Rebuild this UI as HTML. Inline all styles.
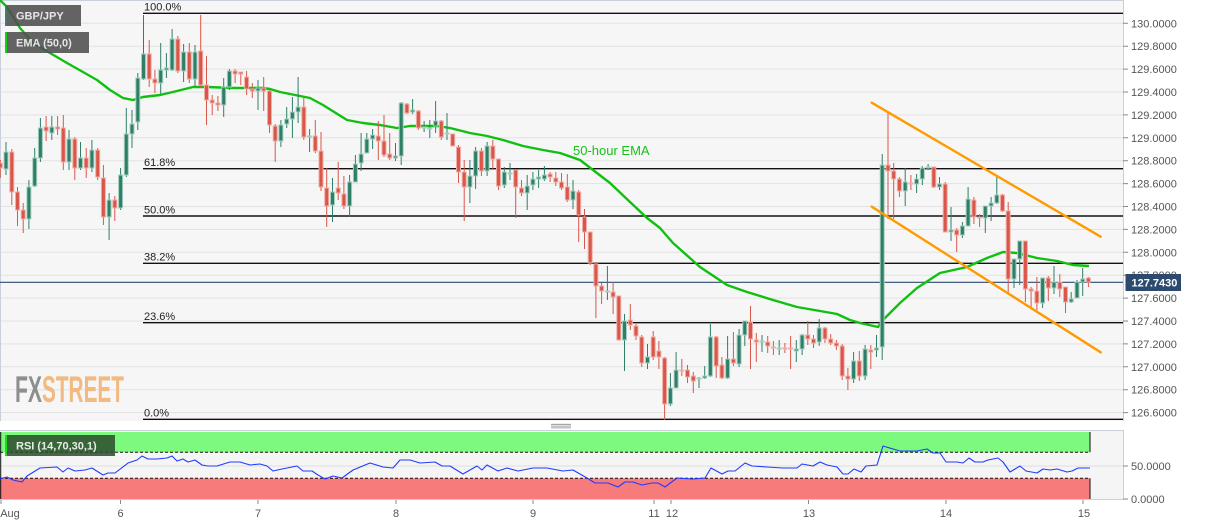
<!DOCTYPE html>
<html><head><meta charset="utf-8"><style>
html,body{margin:0;padding:0;background:#fff;width:1207px;height:526px;overflow:hidden}
svg{display:block;font-family:"Liberation Sans",Arial,sans-serif}
</style></head><body>
<svg width="1207" height="526" viewBox="0 0 1207 526" xmlns="http://www.w3.org/2000/svg">
<defs><clipPath id="mc"><rect x="0" y="0" width="1123" height="421"/></clipPath>
<clipPath id="rc"><rect x="0" y="430" width="1123" height="70"/></clipPath></defs>
<rect x="0" y="0" width="1207" height="526" fill="#fff"/>
<rect x="0" y="0" width="1123" height="421" fill="#f6f6f6"/>
<g stroke="#e2e2e2" stroke-width="1">
<path d="M0,23.3H1123M0,46.2H1123M0,69.1H1123M0,92H1123M0,114.9H1123M0,137.8H1123M0,160.7H1123M0,183.6H1123M0,206.5H1123M0,229.4H1123M0,252.3H1123M0,275.2H1123M0,298.1H1123M0,321H1123M0,343.9H1123M0,366.8H1123M0,389.7H1123M0,412.6H1123"/>
</g>
<g stroke="#c9cfdb" stroke-width="1" fill="none"><path d="M0.5,0V421M0,0.5H1123.5M1123.5,0V421"/></g>
<g stroke="#8a8a8a" stroke-width="1"><path d="M1123,23.3h5M1123,46.2h5M1123,69.1h5M1123,92h5M1123,114.9h5M1123,137.8h5M1123,160.7h5M1123,183.6h5M1123,206.5h5M1123,229.4h5M1123,252.3h5M1123,275.2h5M1123,298.1h5M1123,321h5M1123,343.9h5M1123,366.8h5M1123,389.7h5M1123,412.6h5"/></g>
<g font-size="11" fill="#555">
<text x="1131" y="27.3">130.0000</text><text x="1131" y="50.2">129.8000</text><text x="1131" y="73.1">129.6000</text><text x="1131" y="96">129.4000</text><text x="1131" y="118.9">129.2000</text><text x="1131" y="141.8">129.0000</text><text x="1131" y="164.7">128.8000</text><text x="1131" y="187.6">128.6000</text><text x="1131" y="210.5">128.4000</text><text x="1131" y="233.4">128.2000</text><text x="1131" y="256.3">128.0000</text><text x="1131" y="279.2">127.8000</text><text x="1131" y="302.1">127.6000</text><text x="1131" y="325">127.4000</text><text x="1131" y="347.9">127.2000</text><text x="1131" y="370.8">127.0000</text><text x="1131" y="393.7">126.8000</text><text x="1131" y="416.6">126.6000</text>
</g>
<!-- watermark -->
<text x="15" y="402" font-size="37" font-weight="bold" fill="#8e8e8e" textLength="27" lengthAdjust="spacingAndGlyphs" font-family="'Liberation Sans Narrow','Liberation Sans',sans-serif">FX</text>
<text x="42" y="402" font-size="37" font-weight="bold" fill="#f2ba80" textLength="82" lengthAdjust="spacingAndGlyphs" font-family="'Liberation Sans Narrow','Liberation Sans',sans-serif">STREET</text>
<g clip-path="url(#mc)">
<!-- fib lines -->
<g stroke="#111" stroke-width="1.4"><path d="M143,13.3H1123M143,168.7H1123M143,216H1123M143,263.3H1123M143,322.7H1123M143,419.3H1123"/></g>
<g font-size="11" fill="#222">
<text x="144" y="10.5">100.0%</text><text x="144" y="166">61.8%</text><text x="144" y="213.5">50.0%</text><text x="144" y="260.5">38.2%</text><text x="144" y="320">23.6%</text><text x="144" y="416.5">0.0%</text>
</g>
<path d="M0,282.3H1123" stroke="#2c4a70" stroke-width="1.2"/>
<!-- EMA -->
<polyline fill="none" stroke="#10c010" stroke-width="2.4" stroke-linejoin="round" points="0,0 7,7 20,28 33,43 50,53 67,63 83,72 97,80 110,90 123,98 133,100 143,97 160,95 177,91 193,87 207,87 233,88 263,88 270,89 280,92 290,94 310,98 323,105 347,120 363,123 380,125 397,128 410,126 437,126 450,128 470,133 487,136 503,140 523,146 543,150 560,153 580,160 593,170 610,183 630,202 647,218 660,228 673,243 700,267 727,285 747,292 773,300 797,307 820,311 837,314 850,320 860,323 878,327 883,320 900,303 917,288 940,273 967,267 987,258 1003,252 1017,253 1037,258 1057,261 1073,265 1089,266"/>
<!-- green candles -->
<path stroke="#2f7f68" stroke-width="1" fill="none" d="M6,142V175M28.9,180V229M34.7,148V187M40.4,118V162M51.8,116V140M69,130V170M80.5,142V170M91.9,140V172M109.1,193V240M120.6,168V210M126.3,108V177M132,110V148M137.8,73V130M143.5,15V80M160.7,43V94M166.4,53V78M172.1,29V71M183.6,44V82M195,45V86M223.7,78V117M229.4,69V90M258,80V110M280.9,120V147M286.7,107V128M292.4,97V138M298.1,77V123M309.6,129V152M332.5,178V222M349.6,175V217M355.4,155V182M361.1,133V171M366.8,133V153M372.6,129V149M395.5,143V161M401.2,102V165M412.6,99V114M424.1,121V132M429.8,120V138M435.6,101V133M447,113V140M469.9,160V203M475.6,147V189M487.1,142V176M504.3,167V188M510,163V180M527.2,175V210M532.9,172V190M538.6,170V188M544.4,166V181M573,180V209M607.4,266V300M624.5,314V371M647.5,344V369M670.4,373V406M676.1,352V388M699,377V388M704.7,366V379M710.4,324V377M727.6,336V379M739.1,329V367M744.8,321V346M762,335V352M779.2,340V355M796.3,340V362M802.1,334V355M819.2,319V346M853.6,352V383M865.1,345V380M876.5,335V357M882.2,154V360M905.2,168V206M916.6,174V193M922.3,166V185M928.1,164V170M939.5,177V190M951,207V241M962.4,222V238M968.1,187V226M985.3,206V233M991.1,197V221M996.8,177V204M1014,259V288M1019.7,241V285M1042.6,278V308M1054,266V294M1071.2,292V303M1077,280V298M1082.7,268V296"/>
<path fill="#2f7f68" stroke="#a6cfc0" stroke-width="1" d="M4,152h4v17h-4zM26.9,187h4v32h-4zM32.7,158h4v28h-4zM38.4,128h4v30h-4zM49.8,127h4v6h-4zM67,139h4v23h-4zM78.5,158h4v10h-4zM89.9,150h4v18h-4zM107.1,200h4v17h-4zM118.6,175h4v33h-4zM124.3,134h4v41h-4zM130,124h4v10h-4zM135.8,78h4v44h-4zM141.5,54h4v25h-4zM158.7,70h4v13h-4zM164.4,68h4v2h-4zM170.1,39h4v31h-4zM181.6,52h4v19h-4zM193,52h4v27h-4zM221.7,87h4v18h-4zM227.4,71h4v16h-4zM256,88h4v3h-4zM278.9,125h4v16h-4zM284.7,119h4v5h-4zM290.4,112h4v7h-4zM296.1,107h4v5h-4zM307.6,136h4v1h-4zM330.5,192h4v13h-4zM347.6,182h4v24h-4zM353.4,164h4v18h-4zM359.1,154h4v9h-4zM364.8,139h4v14h-4zM370.6,135h4v4h-4zM393.5,156h4v2h-4zM399.2,103h4v53h-4zM410.6,110h4v2h-4zM422.1,127h4v1h-4zM427.8,128h4v1h-4zM433.6,121h4v5h-4zM445,133h4v1h-4zM467.9,176h4v11h-4zM473.6,151h4v25h-4zM485.1,146h4v25h-4zM502.3,172h4v13h-4zM508,173h4v1h-4zM525.2,186h4v7h-4zM530.9,179h4v6h-4zM536.6,177h4v2h-4zM542.4,175h4v4h-4zM571,191h4v9h-4zM605.4,291h4v1h-4zM622.5,321h4v19h-4zM645.5,357h4v6h-4zM668.4,388h4v16h-4zM674.1,370h4v18h-4zM697,378h4v1h-4zM702.7,376h4v2h-4zM708.4,337h4v39h-4zM725.6,359h4v19h-4zM737.1,335h4v29h-4zM742.8,321h4v14h-4zM760,341h4v1h-4zM777.2,348h4v1h-4zM794.3,349h4v2h-4zM800.1,335h4v14h-4zM817.2,328h4v14h-4zM851.6,361h4v18h-4zM863.1,349h4v27h-4zM874.5,348h4v2h-4zM880.2,165h4v182h-4zM903.2,182h4v9h-4zM914.6,179h4v5h-4zM920.3,168h4v11h-4zM926.1,167h4v1h-4zM937.5,184h4v3h-4zM949,230h4v2h-4zM960.4,226h4v9h-4zM966.1,199h4v27h-4zM983.3,206h4v12h-4zM989.1,203h4v3h-4zM994.8,195h4v8h-4zM1012,259h4v20h-4zM1017.7,241h4v18h-4zM1040.6,278h4v25h-4zM1052,282h4v6h-4zM1069.2,299h4v3h-4zM1075,282h4v16h-4zM1080.7,279h4v3h-4z"/>
<!-- red candles -->
<path stroke="#d9574a" stroke-width="1" fill="none" d="M0.3,160V178M11.8,149V205M17.5,187V226M23.2,203V233M46.1,116V141M57.6,116V135M63.3,115V170M74.8,137V180M86.2,148V178M97.7,148V180M103.4,165V225M114.8,196V221M149.2,40V87M154.9,70V93M177.8,36V73M189.3,43V83M200.7,15V87M206.5,56V125M212.2,95V115M217.9,96V111M235.1,69V83M240.8,72V85M246.6,71V95M252.3,83V98M263.7,77V111M269.5,89V133M275.2,124V162M303.8,97V140M315.3,120V153M321,132V191M326.7,168V227M338.2,162V200M343.9,176V209M378.3,121V160M384,115V157M389.7,133V160M406.9,103V114M418.4,110V130M441.3,120V140M452.7,134V146M458.5,145V183M464.2,160V221M481.4,148V176M492.8,140V170M498.5,159V190M515.7,169V218M521.5,180V196M550.1,172V182M555.8,172V186M561.5,173V190M567.3,174V202M578.7,190V242M584.5,209V249M590.2,232V265M595.9,262V318M601.6,283V304M613.1,282V314M618.8,296V340M630.3,304V330M636,324V340M641.7,335V367M653.2,331V360M658.9,341V369M664.6,357V420M681.8,359V376M687.5,365V383M693.3,372V393M716.2,336V378M721.9,357V379M733.4,332V366M750.5,306V369M756.3,333V362M767.7,336V353M773.4,341V355M784.9,343V353M790.6,336V369M807.8,321V345M813.5,335V348M825,327V343M830.7,334V345M836.4,340V350M842.2,344V380M847.9,368V390M859.3,351V381M870.8,345V369M888,113V219M893.7,163V219M899.4,177V197M910.9,175V190M933.8,167V188M945.2,182V232M956.7,228V252M973.9,197V224M979.6,214V227M1002.5,194V212M1008.2,202V293M1025.4,241V302M1031.1,287V309M1036.9,277V310M1048.3,276V301M1059.8,274V297M1065.5,287V313M1088.4,277V287"/>
<path fill="#d9574a" stroke="#f0aea6" stroke-width="1" d="M-1.7,163h4v5h-4zM9.8,152h4v40h-4zM15.5,192h4v18h-4zM21.2,210h4v9h-4zM44.1,127h4v4h-4zM55.6,127h4v2h-4zM61.3,128h4v34h-4zM72.8,139h4v29h-4zM84.2,158h4v10h-4zM95.7,150h4v27h-4zM101.4,178h4v39h-4zM112.8,200h4v8h-4zM147.2,54h4v25h-4zM152.9,79h4v4h-4zM175.8,39h4v32h-4zM187.3,52h4v27h-4zM198.7,51h4v34h-4zM204.5,85h4v15h-4zM210.2,100h4v3h-4zM215.9,103h4v2h-4zM233.1,71h4v3h-4zM238.8,72h4v2h-4zM244.6,77h4v12h-4zM250.3,89h4v2h-4zM261.7,88h4v3h-4zM267.5,91h4v34h-4zM273.2,126h4v15h-4zM301.8,107h4v30h-4zM313.3,136h4v15h-4zM319,151h4v36h-4zM324.7,188h4v18h-4zM336.2,188h4v5h-4zM341.9,194h4v12h-4zM376.3,136h4v5h-4zM382,141h4v14h-4zM387.7,154h4v4h-4zM404.9,104h4v9h-4zM416.4,111h4v17h-4zM439.3,121h4v16h-4zM450.7,134h4v12h-4zM456.5,147h4v25h-4zM462.2,172h4v15h-4zM479.4,151h4v20h-4zM490.8,146h4v13h-4zM496.5,159h4v27h-4zM513.7,170h4v17h-4zM519.5,188h4v5h-4zM548.1,174h4v3h-4zM553.8,178h4v4h-4zM559.5,182h4v6h-4zM565.3,187h4v13h-4zM576.7,192h4v23h-4zM582.5,217h4v15h-4zM588.2,232h4v31h-4zM593.9,264h4v22h-4zM599.6,286h4v5h-4zM611.1,292h4v5h-4zM616.8,296h4v44h-4zM628.3,320h4v5h-4zM634,326h4v10h-4zM639.7,337h4v26h-4zM651.2,337h4v20h-4zM656.9,351h4v6h-4zM662.6,358h4v46h-4zM679.8,370h4v1h-4zM685.5,370h4v7h-4zM691.3,376h4v5h-4zM714.2,337h4v29h-4zM719.9,365h4v13h-4zM731.4,359h4v4h-4zM748.5,322h4v17h-4zM754.3,340h4v2h-4zM765.7,342h4v4h-4zM771.4,347h4v1h-4zM782.9,348h4v1h-4zM788.6,348h4v1h-4zM805.8,335h4v4h-4zM811.5,339h4v4h-4zM823,328h4v11h-4zM828.7,339h4v4h-4zM834.4,343h4v3h-4zM840.2,346h4v30h-4zM845.9,376h4v3h-4zM857.3,361h4v15h-4zM868.8,350h4v2h-4zM886,165h4v6h-4zM891.7,171h4v8h-4zM897.4,179h4v12h-4zM908.9,183h4v1h-4zM931.8,167h4v20h-4zM943.2,184h4v48h-4zM954.7,230h4v5h-4zM971.9,200h4v17h-4zM977.6,217h4v1h-4zM1000.5,195h4v16h-4zM1006.2,211h4v68h-4zM1023.4,241h4v48h-4zM1029.1,289h4v2h-4zM1034.9,291h4v12h-4zM1046.3,278h4v10h-4zM1057.8,282h4v7h-4zM1063.5,287h4v15h-4zM1086.4,278h4v4h-4z"/>
<!-- channel -->
<g stroke="#ff9a00" stroke-width="2.4" stroke-linecap="round"><path d="M871.7,102.7L1100.7,236.7M871.7,206.7L1100.7,352.3"/></g>
<text x="573" y="155" font-size="13" fill="#18c018">50-hour EMA</text>
</g>
<!-- legends -->
<rect x="5" y="5" width="76" height="21" fill="#4f4f4f" fill-opacity="0.88"/>
<rect x="5" y="5" width="1.5" height="21" fill="#2f8a70"/>
<text x="16" y="19.5" font-size="11" font-weight="bold" fill="#e6e6e6">GBP/JPY</text>
<rect x="5" y="32" width="84" height="21" fill="#4f4f4f" fill-opacity="0.88"/>
<rect x="5" y="32" width="2" height="21" fill="#14d014"/>
<text x="16" y="46.5" font-size="11" font-weight="bold" fill="#e6e6e6">EMA (50,0)</text>
<!-- price tag -->
<rect x="1125.5" y="274" width="55.5" height="17" fill="#2c4a6e"/>
<text x="1131.5" y="286.5" font-size="11" font-weight="bold" fill="#fff">127.7430</text>
<!-- handle -->
<g stroke="#888" stroke-width="0.8"><path d="M551,424.3H571M551,426.1H571M551,427.9H571"/></g>
<!-- RSI panel -->
<rect x="0" y="430" width="1123" height="70" fill="#f5f5f5"/>
<path d="M0,466H1123" stroke="#e0e0e0" stroke-width="1"/>
<rect x="0" y="432" width="1090" height="20.3" fill="#7dfa7d"/>
<rect x="0" y="478.3" width="1090" height="20.7" fill="#f87b7b"/>
<g stroke="#111" stroke-width="1" fill="none">
<path d="M1090,432V452.3M1090,478.3V499M0.7,432V499"/>
<path d="M0,452.3H1090M0,478.3H1090" stroke-dasharray="3,2"/>
</g>
<g stroke="#c9cfdb" stroke-width="1" fill="none"><path d="M0,430.5H1123.5M1123.5,430V500M0,499.5H1123.5"/></g>
<polyline clip-path="url(#rc)" fill="none" stroke="#1f3cff" stroke-width="1.1" stroke-linejoin="round" points="0,479 7,477 13,480 22,482 27,476 40,468 57,467 63,472 68,468 75,471 85,470 92,468 103,475 108,473 115,473 128,463 137,460 142,456 148,459 157,459 167,458 172,456 177,461 183,459 188,462 195,460 202,465 208,466 217,466 230,462 240,462 250,465 260,464 267,466 273,471 282,469 297,466 303,471 312,471 318,475 325,479 333,476 342,478 353,470 370,463 383,467 393,468 400,460 410,460 420,463 435,462 442,466 450,466 463,474 477,466 482,470 487,465 498,471 507,468 518,471 533,468 547,468 563,471 573,470 587,478 595,483 608,483 618,487 625,482 633,482 642,485 652,483 658,483 665,487 677,478 693,479 705,478 711,468 722,474 728,471 735,471 745,463 752,466 767,467 783,468 797,468 802,464 813,466 820,462 827,465 837,467 843,474 848,474 854,469 861,472 866,466 877,465 883,446 900,451 917,451 927,449 933,453 940,453 946,462 957,462 963,463 969,458 975,462 983,462 988,460 998,458 1003,462 1010,472 1020,466 1026,471 1037,473 1043,469 1050,470 1057,469 1067,472 1072,471 1078,468 1090,468"/>
<rect x="5" y="435" width="110" height="21" fill="#2c4a2c" fill-opacity="0.85"/>
<rect x="5" y="435" width="2" height="21" fill="#14e014"/>
<text x="16" y="449.5" font-size="11" font-weight="bold" fill="#eaeaea">RSI (14,70,30,1)</text>
<g stroke="#8a8a8a" stroke-width="1"><path d="M1123,466h5M1123,499h5"/></g>
<g font-size="11" fill="#555"><text x="1131" y="470">50.0000</text><text x="1131" y="503">0.0000</text></g>
<!-- x axis -->
<g stroke="#8a8a8a" stroke-width="1"><path d="M1,500v4M120.5,500v4M258,500v4M396,500v4M533,500v4M654,500v4M671,500v4M808.5,500v4M946,500v4M1083,500v4"/></g>
<g font-size="11" fill="#555" text-anchor="middle">
<text x="10" y="517">Aug</text><text x="120.5" y="517">6</text><text x="258" y="517">7</text><text x="396" y="517">8</text><text x="533" y="517">9</text><text x="654" y="517">11</text><text x="672" y="517">12</text><text x="809" y="517">13</text><text x="946" y="517">14</text><text x="1084" y="517">15</text>
</g>
</svg>
</body></html>
